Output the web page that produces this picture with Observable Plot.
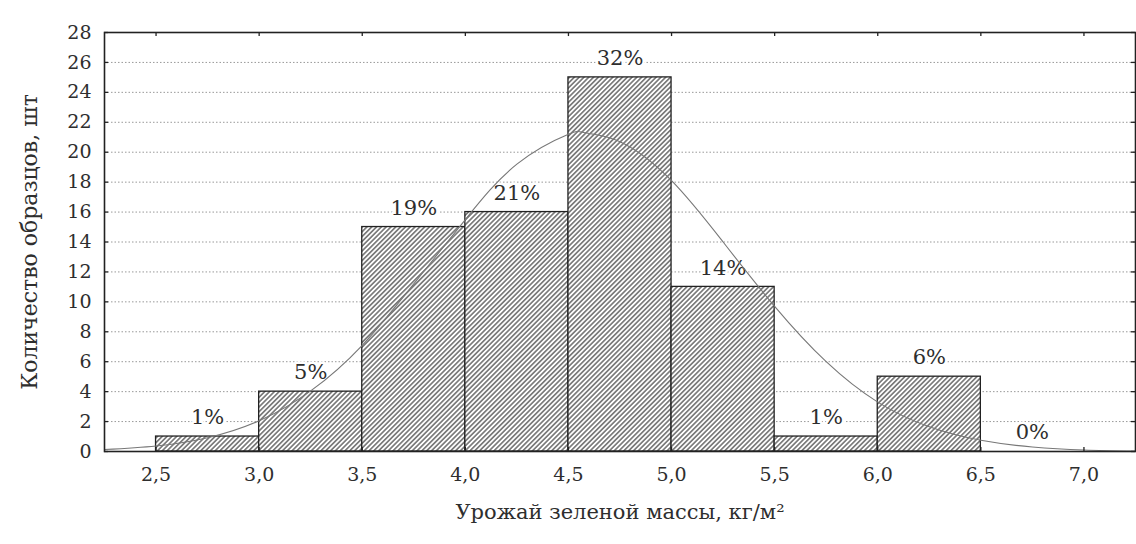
<!DOCTYPE html>
<html>
<head>
<meta charset="utf-8">
<script src="https://cdn.jsdelivr.net/npm/d3@7"></script>
<script src="https://cdn.jsdelivr.net/npm/@observablehq/plot@0.6"></script>
<style>
  body { margin: 0; background: #fff; }
</style>
</head>
<body>
<div id="chart"></div>
<script>
// Histogram of green-mass yield: bin starts (kg/m²), sample counts and share labels
const binStart = [2.5, 3.0, 3.5, 4.0, 4.5, 5.0, 5.5, 6.0, 6.5];
const binWidth = 0.5;
const counts = [1, 4, 15, 16, 25, 11, 1, 5, 0];
const shareLabels = ["1%", "5%", "19%", "21%", "32%", "14%", "1%", "6%", "0%"];

// Fitted normal curve, sampled along the yield axis
const curveX = [2.25, 2.5, 2.75, 3.0, 3.25, 3.5, 3.75, 4.0, 4.25, 4.5, 4.58, 4.75, 5.0, 5.25, 5.5, 5.75, 6.0, 6.25, 6.5, 6.75, 7.0, 7.25];
const curveY = [0.13, 0.37, 0.92, 2.05, 4.05, 7.1, 11.2, 15.5, 19.2, 21.2, 21.3, 20.7, 18.1, 14.0, 9.7, 6.0, 3.3, 1.65, 0.75, 0.3, 0.1, 0.03];

// Axis ticks
const xTicks = [2.5, 3.0, 3.5, 4.0, 4.5, 5.0, 5.5, 6.0, 6.5, 7.0];
const yTicks = [0, 2, 4, 6, 8, 10, 12, 14, 16, 18, 20, 22, 24, 26, 28];

const xLabel = "Урожай зеленой массы, кг/м²";
const yLabel = "Количество образцов, шт";

const bins = binStart.map((x0, i) => ({ x0, x1: x0 + binWidth, count: counts[i], label: shareLabels[i] }));
const curve = curveX.map((x, i) => ({ x, y: curveY[i] }));

const xMin = 2.25, xMax = 7.25, yMax = 28;
const comma = d => d.toFixed(1).replace(".", ",");
const serif = "DejaVu Serif";
const ink = "#2e2e2e";

const chart = Plot.plot({
  width: 1136,
  height: 544,
  marginLeft: 104,
  marginRight: 1,
  marginTop: 32,
  marginBottom: 93,
  style: { fontFamily: serif, fontSize: "19px", color: ink, background: "#fff" },
  x: { domain: [xMin, xMax] },
  y: { domain: [0, yMax] },
  marks: [
    // dotted horizontal grid
    Plot.ruleY(yTicks.filter(d => d > 0 && d < yMax), { stroke: "#999", strokeWidth: 1, strokeDasharray: "1.5,2" }),
    // hatched bars
    Plot.rectY(bins.filter(d => d.count > 0), { x1: "x0", x2: "x1", y: "count", fill: "url(#hatch)", stroke: "#222", strokeWidth: 1.3 }),
    // share labels above each bar
    Plot.text(bins, { x: d => d.x0 + binWidth / 2, y: "count", text: "label", dy: -19, fontSize: 21, fontFamily: serif, fill: ink, stroke: "#fff", strokeWidth: 5 }),
    // normal curve
    Plot.line(curve, { x: "x", y: "y", curve: "natural", stroke: "#777", strokeWidth: 1.1 }),
    // inward tick marks on all four sides
    Plot.ruleY(yTicks, { x1: xMin, x2: xMin + 0.02, stroke: "#222", strokeWidth: 1.3 }),
    Plot.ruleY(yTicks, { x1: xMax - 0.02, x2: xMax, stroke: "#222", strokeWidth: 1.3 }),
    Plot.ruleX(xTicks, { y1: 0, y2: 0.27, stroke: "#222", strokeWidth: 1.3 }),
    Plot.ruleX(xTicks, { y1: yMax - 0.27, y2: yMax, stroke: "#222", strokeWidth: 1.3 }),
    Plot.frame({ stroke: "#222", strokeWidth: 1.6 }),
    // axes
    Plot.axisX(xTicks, { tickSize: 0, tickPadding: 16, tickFormat: comma, fontSize: 19, fontFamily: serif, label: null }),
    Plot.axisY(yTicks, { tickSize: 0, tickPadding: 13, fontSize: 19, fontFamily: serif, label: null }),
    // axis titles
    Plot.text([xLabel], { frameAnchor: "bottom", dy: 67, fontSize: 21, fontFamily: serif, fill: ink }),
    Plot.text([yLabel], { frameAnchor: "left", textAnchor: "middle", rotate: -90, dx: -75, fontSize: 22, fontFamily: serif, fill: ink })
  ]
});

// Diagonal hatch pattern used by the bars
const svg = chart.tagName.toLowerCase() === "svg" ? chart : chart.querySelector("svg");
const defs = d3.select(svg).insert("defs", ":first-child");
const s = 3.4;
const pat = defs.append("pattern")
  .attr("id", "hatch")
  .attr("patternUnits", "userSpaceOnUse")
  .attr("width", s)
  .attr("height", s)
  .attr("patternTransform", "rotate(45)");
pat.append("rect").attr("width", s).attr("height", s).attr("fill", "#fff");
pat.append("line")
  .attr("x1", s / 2).attr("y1", 0)
  .attr("x2", s / 2).attr("y2", s)
  .attr("stroke", "#333").attr("stroke-width", 1.1);

document.getElementById("chart").append(chart);
</script>
</body>
</html>
